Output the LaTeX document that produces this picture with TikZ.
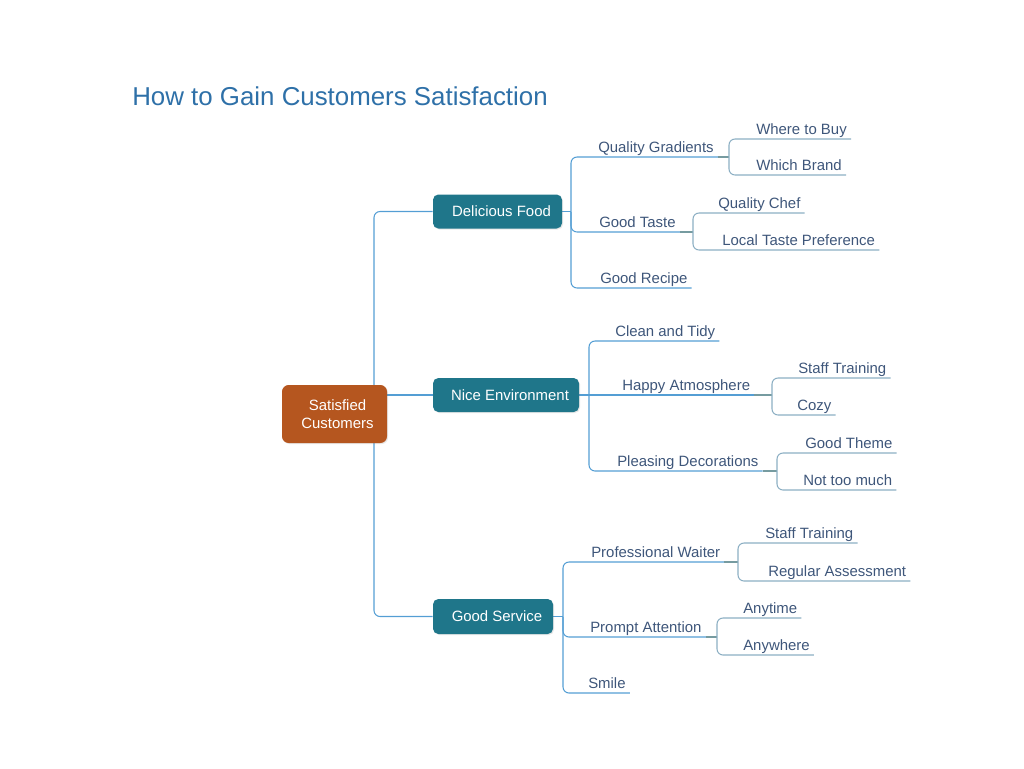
\documentclass[tikz,border=0pt]{standalone}
\usepackage{fontspec}
\setmainfont{Liberation Sans}
\usetikzlibrary{shadows}
\definecolor{teal1}{RGB}{31,118,138}
\definecolor{rootc}{RGB}{181,86,31}
\definecolor{linec}{RGB}{84,158,212}
\definecolor{subc}{RGB}{118,155,160}
\definecolor{leafc}{RGB}{140,175,195}
\definecolor{txtc}{RGB}{62,86,122}
\definecolor{titlec}{RGB}{46,112,168}
\pgfdeclarelayer{bg}
\pgfsetlayers{bg,main}
\tikzset{
  topic/.style={rectangle, rounded corners=4pt, fill=teal1, text=white, inner sep=0pt,
    font=\fontsize{11.2}{13}\selectfont, drop shadow={opacity=0.18, shadow xshift=0.8pt, shadow yshift=-0.8pt}},
  rootbox/.style={rectangle, rounded corners=5pt, fill=rootc, text=white, inner sep=0pt, align=center,
    font=\fontsize{11.2}{14}\selectfont, drop shadow={opacity=0.18, shadow xshift=0.8pt, shadow yshift=-0.8pt}},
  leaf/.style={anchor=south west, inner xsep=3pt, inner ysep=3.1pt, text depth=0pt, text height=8.2pt,
    text=txtc, font=\fontsize{11.2}{13}\selectfont},
  conn/.style={draw=linec, line width=0.8pt, rounded corners=4.5pt},
  subconn/.style={draw=subc, line width=0.8pt, rounded corners=4.5pt},
  leafconn/.style={draw=leafc, line width=0.8pt, rounded corners=4.5pt},
}
\begin{document}
\begin{tikzpicture}[x=0.75pt,y=-0.75pt]
\useasboundingbox (0,0) rectangle (1024,768);

% title
\node[anchor=base west, inner sep=0pt, text=titlec, font=\fontsize{19.4}{22}\selectfont] (title) at (132,105) {How to Gain Customers Satisfaction};

% main boxes
\node[rootbox, minimum width=78.75pt, minimum height=43.5pt] (root) at (334.5,414) {\hspace*{4.5pt}Satisfied\\\hspace*{4.5pt}Customers};
\node[topic, minimum width=96.75pt, minimum height=25.5pt] (df) at (497.5,211.5) {\hspace*{6pt}Delicious Food};
\node[topic, minimum width=109.5pt, minimum height=25.5pt] (ne) at (506,395) {\hspace*{6pt}Nice Environment};
\node[topic, minimum width=90pt, minimum height=26.25pt] (gs) at (493,616.5) {\hspace*{6pt}Good Service};

% level 2 and 3 texts
\node[leaf] (qg) at (594,157) {Quality Gradients};
\node[leaf] (gt) at (595,232) {Good Taste};
\node[leaf] (gr) at (596,288) {Good Recipe};
\node[leaf] (wb) at (752,139) {Where to Buy};
\node[leaf] (wbr) at (752,175) {Which Brand};
\node[leaf] (qc) at (714,213) {Quality Chef};
\node[leaf] (ltp) at (718,250) {Local Taste Preference};

\node[leaf] (ct) at (611,341) {Clean and Tidy};
\node[leaf] (ha) at (618,395) {Happy Atmosphere};
\node[leaf] (pd) at (613,471) {Pleasing Decorations};
\node[leaf] (st1) at (794,378) {Staff Training};
\node[leaf] (cz) at (793,415) {Cozy};
\node[leaf] (gth) at (801,453) {Good Theme};
\node[leaf] (ntm) at (799,490) {Not too much};

\node[leaf] (pw) at (587,562) {Professional Waiter};
\node[leaf] (pa) at (586,637) {Prompt Attention};
\node[leaf] (sm) at (584,693) {Smile};
\node[leaf] (st2) at (761,543) {Staff Training};
\node[leaf] (ra) at (764,581) {Regular Assessment};
\node[leaf] (any) at (739,618) {Anytime};
\node[leaf] (anw) at (739,655) {Anywhere};

% junction coordinates
\coordinate (rj) at (374,395);
\coordinate (dfj) at (571,211.5);
\coordinate (nej) at (589,395);
\coordinate (gsj) at (563,616.5);
\coordinate (qgj) at (729,157);
\coordinate (gtj) at (693,232);
\coordinate (haj) at (772,395);
\coordinate (pdj) at (777,471);
\coordinate (pwj) at (738,562);
\coordinate (paj) at (717,637);

\begin{pgfonlayer}{bg}
% root connectors
\draw[conn] (rj) |- (df.west);
\draw[conn] (rj) |- (gs.west);
\draw[conn] (rj) -- (ne.west);
% delicious food
\draw[conn] (df.east) -- (dfj);
\draw[conn] (dfj) |- (qg.south east);
\draw[conn] (dfj) |- (gt.south east);
\draw[conn] (dfj) |- (gr.south east);
\draw[subconn] (qg.south east) -- (qgj);
\draw[leafconn] (qgj) |- (wb.south east);
\draw[leafconn] (qgj) |- (wbr.south east);
\draw[subconn] (gt.south east) -- (gtj);
\draw[leafconn] (gtj) |- (qc.south east);
\draw[leafconn] (gtj) |- (ltp.south east);
% nice environment
\draw[conn] (ne.east) -- (nej);
\draw[conn] (nej) |- (ct.south east);
\draw[conn] (nej) -- (ha.south east);
\draw[conn] (nej) |- (pd.south east);
\draw[subconn] (ha.south east) -- (haj);
\draw[leafconn] (haj) |- (st1.south east);
\draw[leafconn] (haj) |- (cz.south east);
\draw[subconn] (pd.south east) -- (pdj);
\draw[leafconn] (pdj) |- (gth.south east);
\draw[leafconn] (pdj) |- (ntm.south east);
% good service
\draw[conn] (gs.east) -- (gsj);
\draw[conn] (gsj) |- (pw.south east);
\draw[conn] (gsj) |- (pa.south east);
\draw[conn] (gsj) |- (sm.south east);
\draw[subconn] (pw.south east) -- (pwj);
\draw[leafconn] (pwj) |- (st2.south east);
\draw[leafconn] (pwj) |- (ra.south east);
\draw[subconn] (pa.south east) -- (paj);
\draw[leafconn] (paj) |- (any.south east);
\draw[leafconn] (paj) |- (anw.south east);
\end{pgfonlayer}
\end{tikzpicture}
\end{document}
